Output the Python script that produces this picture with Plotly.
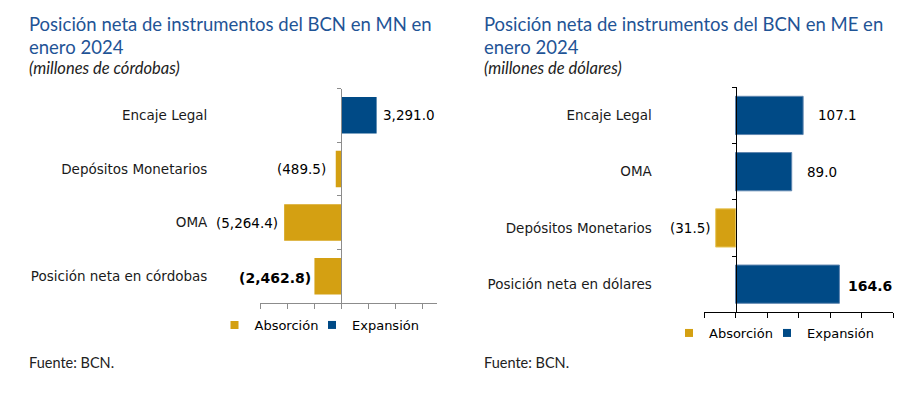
import plotly.graph_objects as go

# ---------------- data ----------------
mn_categories = ["Encaje Legal", "Depósitos Monetarios", "OMA", "Posición neta en córdobas"]
mn_values = [3291.0, -489.5, -5264.4, -2462.8]
mn_labels = ["3,291.0", "(489.5)", "(5,264.4)", "(2,462.8)"]

me_categories = ["Encaje Legal", "OMA", "Depósitos Monetarios", "Posición neta en dólares"]
me_values = [107.1, 89.0, -31.5, 164.6]
me_labels = ["107.1", "89.0", "(31.5)", "164.6"]

mn_title = ["Posición neta de instrumentos del BCN en MN en", "enero 2024"]
mn_subtitle = "(millones de córdobas)"
me_title = ["Posición neta de instrumentos del BCN en ME en", "enero 2024"]
me_subtitle = "(millones de dólares)"
source_text = "Fuente: BCN."
series_names = ["Absorción", "Expansión"]

# ---------------- style ----------------
W, H = 911, 393
BLUE = "#004A86"
GOLD = "#D4A012"
TITLE_BLUE = "#1F5496"
TXT = "#1a1a1a"
CAT_FONT = "DejaVu Sans"
HEAD_FONT = "Lato"

def px_x(p):
    return p / W

def px_y(p):
    return 1 - p / H

panels = [
    dict(cats=mn_categories, vals=mn_values, labs=mn_labels,
         xd=(260, 437), yd=(88.5, 303), xr=(-7500, 8880), dt=2500,
         axcol="#8c8c8c", standoff=131, xs=[4, -8, -4, -1],
         bold_last=True, border=False,
         title=mn_title, sub=mn_subtitle, tx=27, legend_y=325, legend_xs=[214.5, 312]),
    dict(cats=me_categories, vals=me_values, labs=me_labels,
         xd=(704, 893.3), yd=(87.3, 312.3), xr=(-50, 250), dt=50,
         axcol="#000000", standoff=81, xs=[13, 13, -3, 7],
         bold_last=True, border=True,
         title=me_title, sub=me_subtitle, tx=481.5, legend_y=333, legend_xs=[669, 767]),
]

fig = go.Figure()
annotations = []
layout_axes = {}
leg_count = 0

for i, p in enumerate(panels):
    n = "" if i == 0 else str(i + 1)
    xa, ya = "x" + n, "y" + n
    neg = [v if v < 0 else None for v in p["vals"]]
    pos = [v if v >= 0 else None for v in p["vals"]]
    lw = 1 if p["border"] else 0
    fig.add_trace(go.Bar(y=p["cats"], x=neg, orientation="h", marker_color=GOLD,
                         marker_line=dict(color="#E8C860", width=lw), width=0.68,
                         xaxis=xa, yaxis=ya, showlegend=False, hoverinfo="skip"))
    fig.add_trace(go.Bar(y=p["cats"], x=pos, orientation="h", marker_color=BLUE,
                         marker_line=dict(color="#5F86B0", width=lw), width=0.68,
                         xaxis=xa, yaxis=ya, showlegend=False, hoverinfo="skip"))
    # legend entries (one legend box per entry for exact placement)
    for name, col, lx in zip(series_names, [GOLD, BLUE], p["legend_xs"]):
        leg_count += 1
        legname = "legend" if leg_count == 1 else "legend%d" % leg_count
        fig.add_trace(go.Scatter(x=[None], y=[None], mode="markers", name=name,
                                 marker=dict(symbol="square", size=8, color=col),
                                 xaxis=xa, yaxis=ya, legend=legname, showlegend=True))
        layout_axes[legname] = dict(
            x=px_x(lx), y=px_y(p["legend_y"]), xanchor="left", yanchor="middle",
            orientation="h", font=dict(family=CAT_FONT, size=13, color="#000"),
            bgcolor="rgba(0,0,0,0)", itemclick=False, itemdoubleclick=False,
            borderwidth=0)

    d0, d1 = px_x(p["xd"][0]), px_x(p["xd"][1])
    r0, r1 = p["xr"]
    zero_pos = d0 + (d1 - d0) * (0 - r0) / (r1 - r0)
    layout_axes["xaxis" + n] = dict(
        domain=[d0, d1], range=[r0, r1], tick0=0, dtick=p["dt"], showticklabels=False,
        ticks="outside", ticklen=5, tickcolor=p["axcol"], showline=True,
        linecolor=p["axcol"], linewidth=1, showgrid=False, zeroline=False,
        anchor=ya, fixedrange=True)
    layout_axes["yaxis" + n] = dict(
        domain=[px_y(p["yd"][1]), px_y(p["yd"][0])], type="category",
        categoryorder="array", categoryarray=p["cats"], range=[3.5, -0.5],
        anchor="free", position=zero_pos, showline=True, linecolor=p["axcol"],
        linewidth=1, ticks="outside", tickson="boundaries", ticklen=4,
        tickcolor=p["axcol"], showgrid=False, zeroline=False,
        ticklabelstandoff=p["standoff"],
        tickfont=dict(family=CAT_FONT, size=13.5, color=TXT), fixedrange=True)

    # value labels
    for k, (c, v, lab) in enumerate(zip(p["cats"], p["vals"], p["labs"])):
        bold = p["bold_last"] and k == len(p["vals"]) - 1
        annotations.append(dict(
            x=v, y=c, xref=xa, yref=ya, text=("<b>%s</b>" % lab) if bold else lab,
            showarrow=False, xanchor="left" if v >= 0 else "right",
            xshift=p["xs"][k], yshift=-2 if bold else 0,
            font=dict(family=CAT_FONT, size=14 if bold else 13.5, color="#000")))

    # titles
    annotations.append(dict(x=px_x(p["tx"]), y=px_y(24), xref="paper", yref="paper",
                            text=p["title"][0], showarrow=False, xanchor="left", yanchor="middle",
                            font=dict(family=HEAD_FONT, size=18.5, color=TITLE_BLUE)))
    annotations.append(dict(x=px_x(p["tx"]), y=px_y(47), xref="paper", yref="paper",
                            text=p["title"][1], showarrow=False, xanchor="left", yanchor="middle",
                            font=dict(family=HEAD_FONT, size=18.5, color=TITLE_BLUE)))
    annotations.append(dict(x=px_x(p["tx"]), y=px_y(68), xref="paper", yref="paper",
                            text="<i>%s</i>" % p["sub"], showarrow=False, xanchor="left",
                            yanchor="middle",
                            font=dict(family=HEAD_FONT, size=16.5, color="#222")))
    annotations.append(dict(x=px_x(p["tx"]), y=px_y(362), xref="paper", yref="paper",
                            text=source_text, showarrow=False, xanchor="left", yanchor="middle",
                            font=dict(family=HEAD_FONT, size=14.5, color="#222")))

fig.update_layout(
    width=W, height=H, margin=dict(l=0, r=0, t=0, b=0),
    paper_bgcolor="white", plot_bgcolor="white",
    barmode="relative", bargap=0.32, showlegend=True, hovermode=False,
    annotations=annotations, **layout_axes)

fig.write_html("out.html", config={"displayModeBar": False},
               post_script="document.body.style.margin='0';")
